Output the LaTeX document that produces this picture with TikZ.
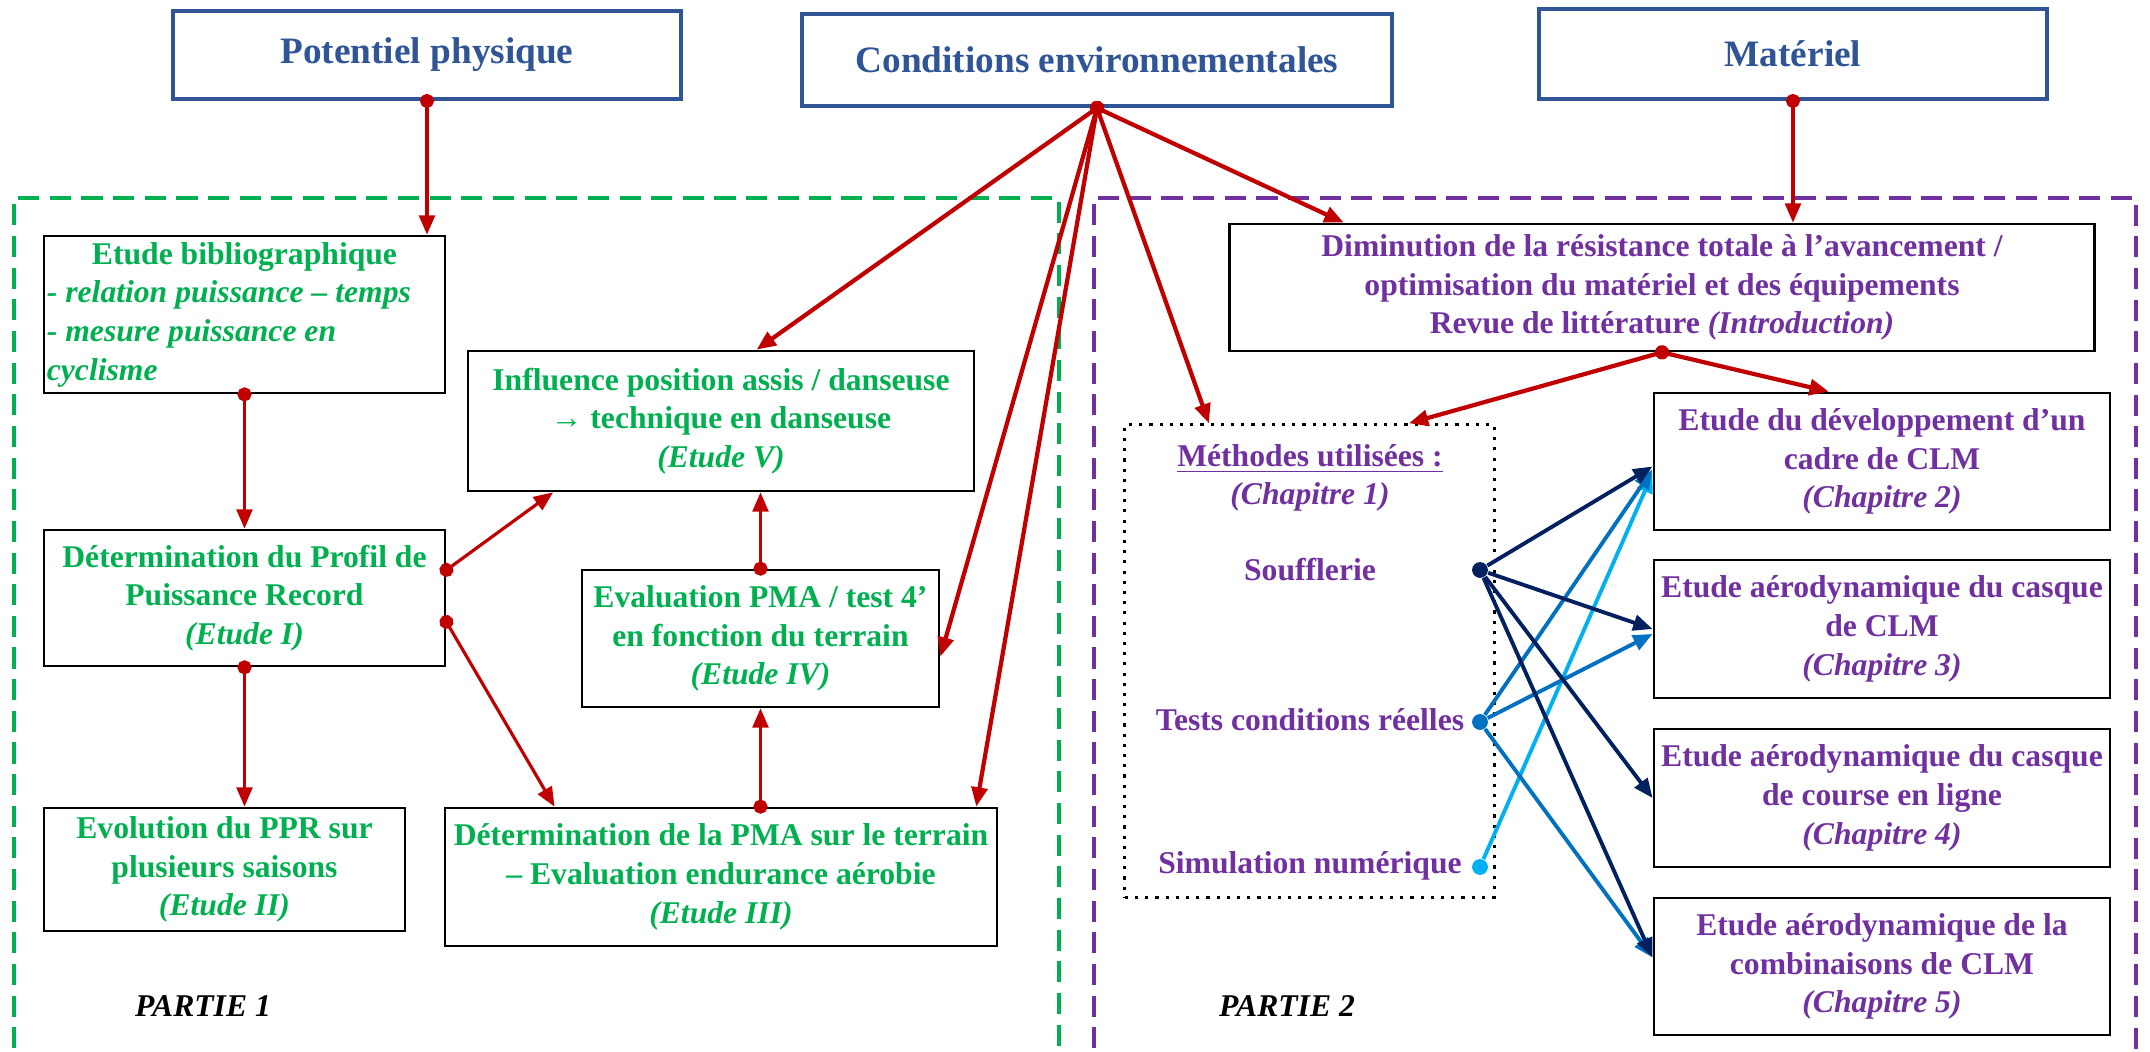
\documentclass[tikz,border=0pt]{standalone}
\usepackage{fontspec}
\setmainfont{Liberation Serif}
\usetikzlibrary{arrows.meta,calc}
\definecolor{titleblue}{HTML}{2F5597}
\definecolor{partgreen}{HTML}{00B050}
\definecolor{partpurple}{HTML}{7030A0}
\definecolor{linkred}{HTML}{C00000}
\definecolor{navy}{HTML}{002060}
\definecolor{midblue}{HTML}{0070C0}
\definecolor{lightblue}{HTML}{00B0F0}

\begin{document}
\begin{tikzpicture}[x=0.01cm,y=-0.01cm,
    titlebox/.style={draw=titleblue, line width=1.1pt, text=titleblue, font=\fontsize{10.6}{13}\selectfont\bfseries, align=center, inner sep=0pt},
    studybox/.style={draw=black, line width=0.75pt, font=\fontsize{9}{11}\selectfont\bfseries, align=center, inner sep=0pt},
    greenbox/.style={studybox, text=partgreen},
    purplebox/.style={studybox, text=partpurple},
    redlink/.style={draw=linkred, line width=0.9pt, {Circle[length=4pt]}-{Triangle[length=5.5pt,width=4.5pt]}, shorten <=-2pt},
    bluelink/.style={line width=1.1pt, -{Triangle[length=5.5pt,width=4.5pt]}},
    methdot/.style={circle, inner sep=0pt, minimum size=4.5pt},
    methlabel/.style={text=partpurple, font=\fontsize{9}{11}\selectfont\bfseries},
    partlabel/.style={font=\fontsize{9}{11}\selectfont\bfseries\itshape}]
    \useasboundingbox (0,0) rectangle (2150,1052);
    % the two parts
    \draw[partgreen, line width=1.2pt, dash pattern=on 6pt off 3pt] (14,1080) -- (14,198) -- (1059,198) -- (1059,1080);
    \draw[partpurple, line width=1.2pt, dash pattern=on 6pt off 3pt] (1094,1080) -- (1094,198) -- (2136,198) -- (2136,1080);
    % top boxes
    \node[titlebox, minimum width=5.08cm, minimum height=0.88cm] (pot) at (427,55) {Potentiel physique};
    \node[titlebox, minimum width=5.9cm, minimum height=0.92cm] (cond) at (1097,60) {Conditions environnementales};
    \node[titlebox, minimum width=5.08cm, minimum height=0.9cm] (mat) at (1793,54) {Matériel};
    % partie 1
    \node[greenbox, minimum width=4.01cm, minimum height=1.57cm] (biblio) at (244.5,314.5)
        {Etude bibliographique\\\makebox[3.95cm][l]{\itshape - relation puissance – temps}\\\makebox[3.95cm][l]{\itshape - mesure puissance en}\\\makebox[3.95cm][l]{\itshape cyclisme}};
    \node[greenbox, minimum width=5.06cm, minimum height=1.4cm] (infl) at (721,421)
        {Influence position assis / danseuse\\→ technique en danseuse\\\textit{(Etude V)}};
    \node[greenbox, minimum width=4.01cm, minimum height=1.36cm] (profil) at (244.5,598)
        {Détermination du Profil de\\Puissance Record\\\textit{(Etude I)}};
    \node[greenbox, minimum width=3.57cm, minimum height=1.37cm] (evalpma) at (760.5,638.5)
        {Evaluation PMA / test 4’\\en fonction du terrain\\\textit{(Etude IV)}};
    \node[greenbox, minimum width=3.61cm, minimum height=1.23cm] (evol) at (224.5,869.5)
        {Evolution du PPR sur\\plusieurs saisons\\\textit{(Etude II)}};
    \node[greenbox, minimum width=5.52cm, minimum height=1.38cm] (detpma) at (721,877)
        {Détermination de la PMA sur le terrain\\– Evaluation endurance aérobie\\\textit{(Etude III)}};
    \node[partlabel] (partie1) at (203,1006) {PARTIE 1};
    % partie 2
    \node[purplebox, minimum width=8.64cm, minimum height=1.27cm] (dimin) at (1662,287.5)
        {Diminution de la résistance totale à l’avancement /\\optimisation du matériel et des équipements\\Revue de littérature \textit{(Introduction)}};
    \node[draw=black, line width=0.9pt, dotted, minimum width=3.69cm, minimum height=4.72cm] (methodes) at (1309.5,661) {};
    \node[methlabel, align=center] (methtitle) at (1310,478) {\underline{Méthodes utilisées :}\\\textit{(Chapitre 1)}};
    \node[methlabel] (souf) at (1310,570) {Soufflerie};
    \node[methlabel] (tests) at (1310,720) {Tests conditions réelles};
    \node[methlabel] (simu) at (1310,866) {Simulation numérique};
    \node[methdot, fill=navy] (soufdot) at (1480,570) {};
    \node[methdot, fill=midblue] (testsdot) at (1480,722) {};
    \node[methdot, fill=lightblue] (simudot) at (1480,867) {};
    \node[purplebox, minimum width=4.56cm, minimum height=1.37cm] (ch2) at (1882,461.5)
        {Etude du développement d’un\\cadre de CLM\\\textit{(Chapitre 2)}};
    \node[purplebox, minimum width=4.56cm, minimum height=1.38cm] (ch3) at (1882,629)
        {Etude aérodynamique du casque\\de CLM\\\textit{(Chapitre 3)}};
    \node[purplebox, minimum width=4.56cm, minimum height=1.38cm] (ch4) at (1882,798)
        {Etude aérodynamique du casque\\de course en ligne\\\textit{(Chapitre 4)}};
    \node[purplebox, minimum width=4.56cm, minimum height=1.37cm] (ch5) at (1882,966.5)
        {Etude aérodynamique de la\\combinaisons de CLM\\\textit{(Chapitre 5)}};
    \node[partlabel] (partie2) at (1287,1006) {PARTIE 2};
    % red links
    \draw[redlink] (pot.south) -- (pot.south |- biblio.north);
    \draw[redlink] (biblio.south) -- (profil.north);
    \draw[redlink] (profil.south) -- (profil.south |- evol.north);
    \draw[redlink] ($(profil.east)+(0,-28)$) -- ($(infl.south west)!0.17!(infl.south east)$);
    \draw[redlink] ($(profil.east)+(0,24)$) -- ($(detpma.north west)!0.2!(detpma.north east)$);
    \draw[redlink] (evalpma.south |- detpma.north) -- (evalpma.south);
    \draw[redlink] (evalpma.north) -- (evalpma.north |- infl.south);
    \draw[redlink, line width=1.2pt] (cond.south) -- ($(infl.north west)!0.57!(infl.north east)$);
    \draw[redlink, line width=1.2pt] (cond.south) -- ($(evalpma.east)+(0,18)$);
    \draw[redlink, line width=1.2pt] (cond.south) -- ($(detpma.north west)!0.96!(detpma.north east)$);
    \draw[redlink, line width=1.2pt] (cond.south) -- ($(methodes.north west)!0.23!(methodes.north east)$);
    \draw[redlink, line width=1.2pt] (cond.south) -- ($(dimin.north west)!0.133!(dimin.north east)$);
    \draw[redlink] (mat.south) -- (mat.south |- dimin.north);
    \draw[redlink, line width=1.2pt] (dimin.south) -- ($(methodes.north west)!0.767!(methodes.north east)$);
    \draw[redlink, line width=1.2pt] (dimin.south) -- ($(ch2.north west)!0.384!(ch2.north east)$);
    % methods to chapters
    \draw[bluelink, lightblue] (simudot) -- ($(ch2.west)+(0,12)$);
    \draw[bluelink, midblue] (testsdot) -- ($(ch2.west)+(0,8)$);
    \draw[bluelink, midblue] (testsdot) -- ($(ch3.west)+(0,5)$);
    \draw[bluelink, midblue] (testsdot) -- ($(ch5.west)+(0,-9)$);
    \draw[bluelink, navy] (soufdot) -- ($(ch2.west)+(0,5)$);
    \draw[bluelink, navy] (soufdot) -- (ch3.west);
    \draw[bluelink, navy] (soufdot) -- (ch4.west);
    \draw[bluelink, navy] (soufdot) -- ($(ch5.west)+(0,-9)$);
\end{tikzpicture}
\end{document}
